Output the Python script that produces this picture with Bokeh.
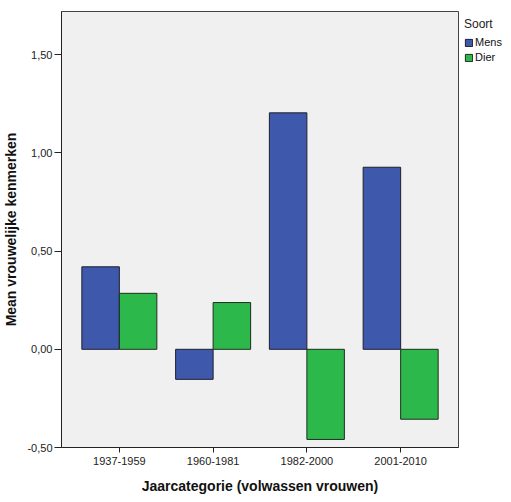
from bokeh.plotting import figure
from bokeh.models import FactorRange, FixedTicker, Legend, LegendItem, ColumnDataSource
from bokeh.transform import dodge
from bokeh.embed import file_html
from bokeh.resources import INLINE

categories = ["1937-1959", "1960-1981", "1982-2000", "2001-2010"]
mens = [0.42, -0.153, 1.204, 0.927]
dier = [0.285, 0.238, -0.459, -0.356]
series_names = ["Mens", "Dier"]
y_ticks = [-0.5, 0.0, 0.5, 1.0, 1.5]
y_tick_labels = ["-0,50", "0,00", "0,50", "1,00", "1,50"]

FONT = "Liberation Sans"

src = ColumnDataSource(dict(cat=categories, mens=mens, dier=dier))

p = figure(frame_width=397, frame_height=436, output_backend="svg", toolbar_location=None,
           x_range=FactorRange(*categories, range_padding=0.0585),
           y_range=(-0.5, 1.72),
           min_border_left=10, min_border_right=10, min_border_top=11, min_border_bottom=10)

p.background_fill_color = "#f0f0f0"
p.border_fill_color = "white"
p.outline_line_color = "#444444"
p.outline_line_width = 1
p.xgrid.visible = False
p.ygrid.visible = False

r1 = p.vbar(x=dodge("cat", -0.2, range=p.x_range), top="mens", bottom=0, width=0.4,
            source=src, fill_color="#3e58ac", line_color="#1e1e2e", line_width=1)
r2 = p.vbar(x=dodge("cat", 0.2, range=p.x_range), top="dier", bottom=0, width=0.4,
            source=src, fill_color="#2db84b", line_color="#1e2e1e", line_width=1)

p.yaxis.ticker = FixedTicker(ticks=y_ticks)
p.yaxis.major_label_overrides = {t: l for t, l in zip(y_ticks, y_tick_labels)}
p.yaxis.minor_tick_line_color = None
p.yaxis.major_tick_in = 0
p.yaxis.major_tick_out = 7
p.yaxis.major_label_standoff = 2
p.yaxis.axis_label = "Mean vrouwelijke kenmerken"
p.yaxis.axis_label_standoff = 5

p.xaxis.major_tick_in = 0
p.xaxis.major_tick_out = 5
p.xaxis.major_label_standoff = 4
p.xaxis.axis_label = "Jaarcategorie (volwassen vrouwen)"
p.xaxis.axis_label_standoff = 10

for ax in (p.xaxis[0], p.yaxis[0]):
    ax.major_label_text_font = FONT
    ax.major_label_text_font_size = "11px"
    ax.major_label_text_color = "#222222"
    ax.axis_label_text_font = FONT
    ax.axis_label_text_font_size = "14px"
    ax.axis_label_text_font_style = "bold"
    ax.axis_label_text_color = "#111111"
    ax.axis_line_color = "#222222"
    ax.major_tick_line_color = "#222222"

legend = Legend(items=[LegendItem(label=series_names[0], renderers=[r1]),
                       LegendItem(label=series_names[1], renderers=[r2])],
                location="top_left", title="Soort",
                title_text_font=FONT, title_text_font_size="12px", title_text_font_style="normal",
                title_text_color="#222222", title_standoff=5,
                label_text_font=FONT, label_text_font_size="11px", label_text_color="#111111",
                glyph_width=9, glyph_height=9, label_height=9, label_standoff=2,
                spacing=3, padding=6, margin=0,
                border_line_alpha=0, background_fill_alpha=0)
p.add_layout(legend, "right")

open("out.html", "w").write(file_html(p, INLINE))
